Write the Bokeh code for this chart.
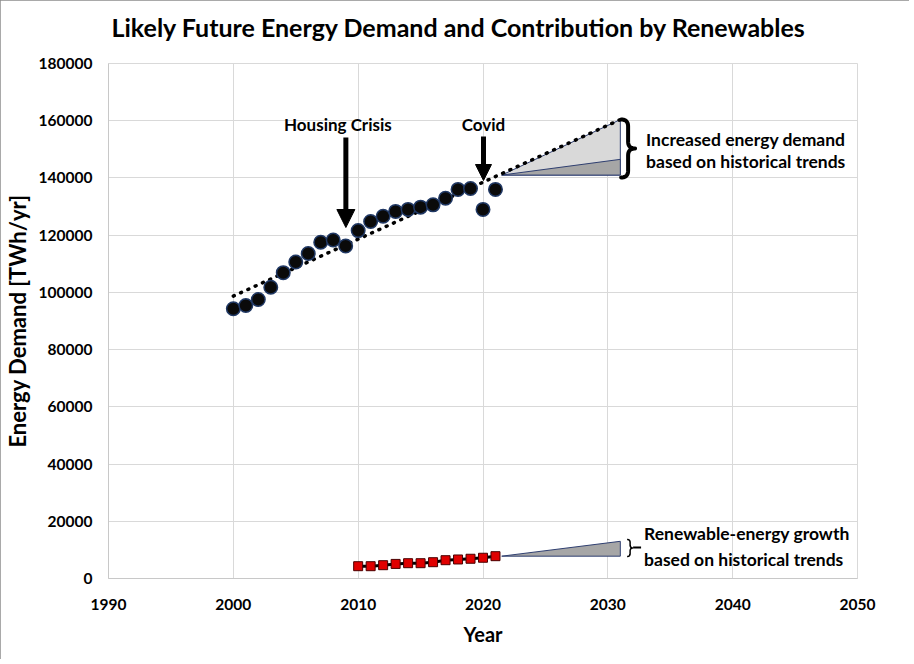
import numpy as np
from bokeh.plotting import figure
from bokeh.models import Label, Arrow, NormalHead, FixedTicker, BasicTickFormatter, Title
from bokeh.core.properties import value
from bokeh.embed import file_html
from bokeh.resources import INLINE

# ---------------- data ----------------
years = list(range(2000, 2022))
demand = [94300, 95400, 97500, 101800, 106900, 110600, 113600, 117500, 118300, 116200,
          121600, 124800, 126600, 128300, 129000, 129800, 130600, 132900, 136000, 136300,
          129000, 136000]
trend_years = [2000, 2031]
trend_demand = [98700, 160400]
renew_years = list(range(2010, 2022))
renew = [4300, 4300, 4650, 5100, 5350, 5350, 5700, 6400, 6650, 6900, 7250, 7800]
proj_years = [2021.5, 2031]
proj_demand_high = [141000, 160400]
proj_demand_low = [141000, 146500]
proj_renew = [7800, 13000]
x_ticks = [1990, 2000, 2010, 2020, 2030, 2040, 2050]
y_ticks = list(range(0, 180001, 20000))

FONT = "Lato"

# frame geometry (reference pixels) used only for placing annotations
FL, FR, FT, FB = 107, 858, 64, 579
def X(px):
    return 1990 + (px - FL) * 60.0 / (FR - FL)
def Y(py):
    return (FB - py) * 180000.0 / (FB - FT)

p = figure(width=909, height=659, x_range=(1990, 2050), y_range=(0, 180000),
           output_backend="svg", toolbar_location=None,
           min_border_left=106, min_border_right=52, min_border_top=63, min_border_bottom=81)
p.styles = {"outline": "1px solid #8c8c8c", "outline-offset": "-1px"}
p.title = None
# spacer title (closest to frame), then the real title above it
p.add_layout(Title(text=" ", text_font_size="1px", standoff=6, text_color="white"), "above")
p.add_layout(Title(text="Likely Future Energy Demand and Contribution by Renewables",
                   align="left", offset=3, vertical_align="top",
                   text_font=FONT, text_font_style="bold",
                   text_font_size="25px", text_color="black", standoff=22), "above")
p.outline_line_color = "#d9d9d9"
p.background_fill_color = "white"
p.border_fill_color = "white"

p.xaxis.ticker = FixedTicker(ticks=x_ticks)
p.yaxis.ticker = FixedTicker(ticks=y_ticks)
p.yaxis.formatter = BasicTickFormatter(use_scientific=False)
for ax in (p.xaxis, p.yaxis):
    ax.major_tick_line_color = None
    ax.minor_tick_line_color = None
    ax.major_tick_out = 0
    ax.major_tick_in = 0
    ax.minor_tick_out = 0
    ax.minor_tick_in = 0
    ax.axis_line_color = "#c8c8c8"
    ax.major_label_text_font = FONT
    ax.major_label_text_font_style = "bold"
    ax.major_label_text_font_size = "15.5px"
    ax.major_label_text_color = "black"
    ax.axis_label_text_font = FONT
    ax.axis_label_text_font_style = "bold"
    ax.axis_label_text_color = "black"
p.xaxis.axis_label_text_font_size = "20px"
p.yaxis.axis_label_text_font_size = "22px"
p.xaxis.major_label_standoff = 20
p.yaxis.major_label_standoff = 16
p.xaxis.axis_label = "Year"
p.yaxis.axis_label = "Energy Demand [TWh/yr]"
p.xaxis.axis_label_standoff = 9
p.yaxis.axis_label_standoff = 5
p.grid.grid_line_color = "#d9d9d9"
p.grid.grid_line_width = 1

# projection triangles
tri_line = "#2f3f70"
p.patch([proj_years[0], proj_years[1], proj_years[1]],
        [proj_demand_high[0], proj_demand_high[1], proj_demand_high[0]],
        fill_color="#d9d9d9", line_color=tri_line, line_width=1)
p.patch([proj_years[0], proj_years[1], proj_years[1]],
        [proj_demand_low[0], proj_demand_low[1], proj_demand_low[0]],
        fill_color="#a6a6a6", line_color=tri_line, line_width=1)
p.patch([proj_years[0], proj_years[1], proj_years[1]],
        [proj_renew[0], proj_renew[1], proj_renew[0]],
        fill_color="#a6a6a6", line_color=tri_line, line_width=1)

# trend line (dotted)
p.line(trend_years, trend_demand, line_color="black", line_width=3.5,
       line_dash="1 7", line_cap="round")

# demand points
p.scatter(years, demand, size=13.5, marker="circle", fill_color="#0a0a0a",
          line_color="#203864", line_width=1.5)

# renewables
p.line(renew_years, renew, line_color="black", line_width=3)
p.scatter(renew_years, renew, size=9, marker="square", fill_color="#e00000",
          line_color="#4a0000", line_width=1)

# braces
def brace(xl, ytop, ybot, w, r):
    xs_ = xl + w * 0.5
    ym = (ytop + ybot) / 2.0
    t = np.linspace(0, 1, 12)
    def quad(p0, c, p1):
        return [((1-tt)**2*p0[0] + 2*(1-tt)*tt*c[0] + tt**2*p1[0],
                 (1-tt)**2*p0[1] + 2*(1-tt)*tt*c[1] + tt**2*p1[1]) for tt in t]
    pts = []
    pts += quad((xl, ytop), (xs_, ytop), (xs_, ytop + r))
    pts += quad((xs_, ym - r), (xs_, ym), (xl + w, ym))
    pts += quad((xl + w, ym), (xs_, ym), (xs_, ym + r))
    pts += quad((xs_, ybot - r), (xs_, ybot), (xl, ybot))
    return [X(a) for a, b in pts], [Y(b) for a, b in pts]

bx, by = brace(621, 120, 178, 14, 7)
p.line(bx, by, line_color="black", line_width=4, line_join="round", line_cap="round")
bx2, by2 = brace(627, 540, 557, 6, 3)
p.line(bx2, by2, line_color="black", line_width=1.5)
p.line([X(633), X(641)], [Y(548), Y(548)], line_color="black", line_width=2)

# arrows
p.add_layout(Arrow(end=NormalHead(size=18, fill_color="black", line_color="black"),
                   x_start=X(345), y_start=Y(138), x_end=X(345), y_end=Y(228),
                   line_color="black", line_width=5))
p.add_layout(Arrow(end=NormalHead(size=16, fill_color="black", line_color="black"),
                   x_start=X(483), y_start=Y(137), x_end=X(483), y_end=Y(181),
                   line_color="black", line_width=5))

def lab(txt, px, py, size="17.5px", align="left", angle=0.0):
    p.add_layout(Label(x=X(px), y=Y(py), text=txt, text_font=FONT, text_font_style="bold",
                       text_font_size=size, text_align=align, text_baseline="middle",
                       text_color="black", angle=angle))

lab("Housing Crisis", 337, 125, "17px", "center")
lab("Covid", 483, 125, "17px", "center")
lab("Increased energy demand", 646, 140)
lab("based on historical trends", 646, 162)
lab("Renewable-energy growth", 644, 534)
lab("based on historical trends", 644, 560)

open("out.html", "w").write(file_html(p, INLINE))
